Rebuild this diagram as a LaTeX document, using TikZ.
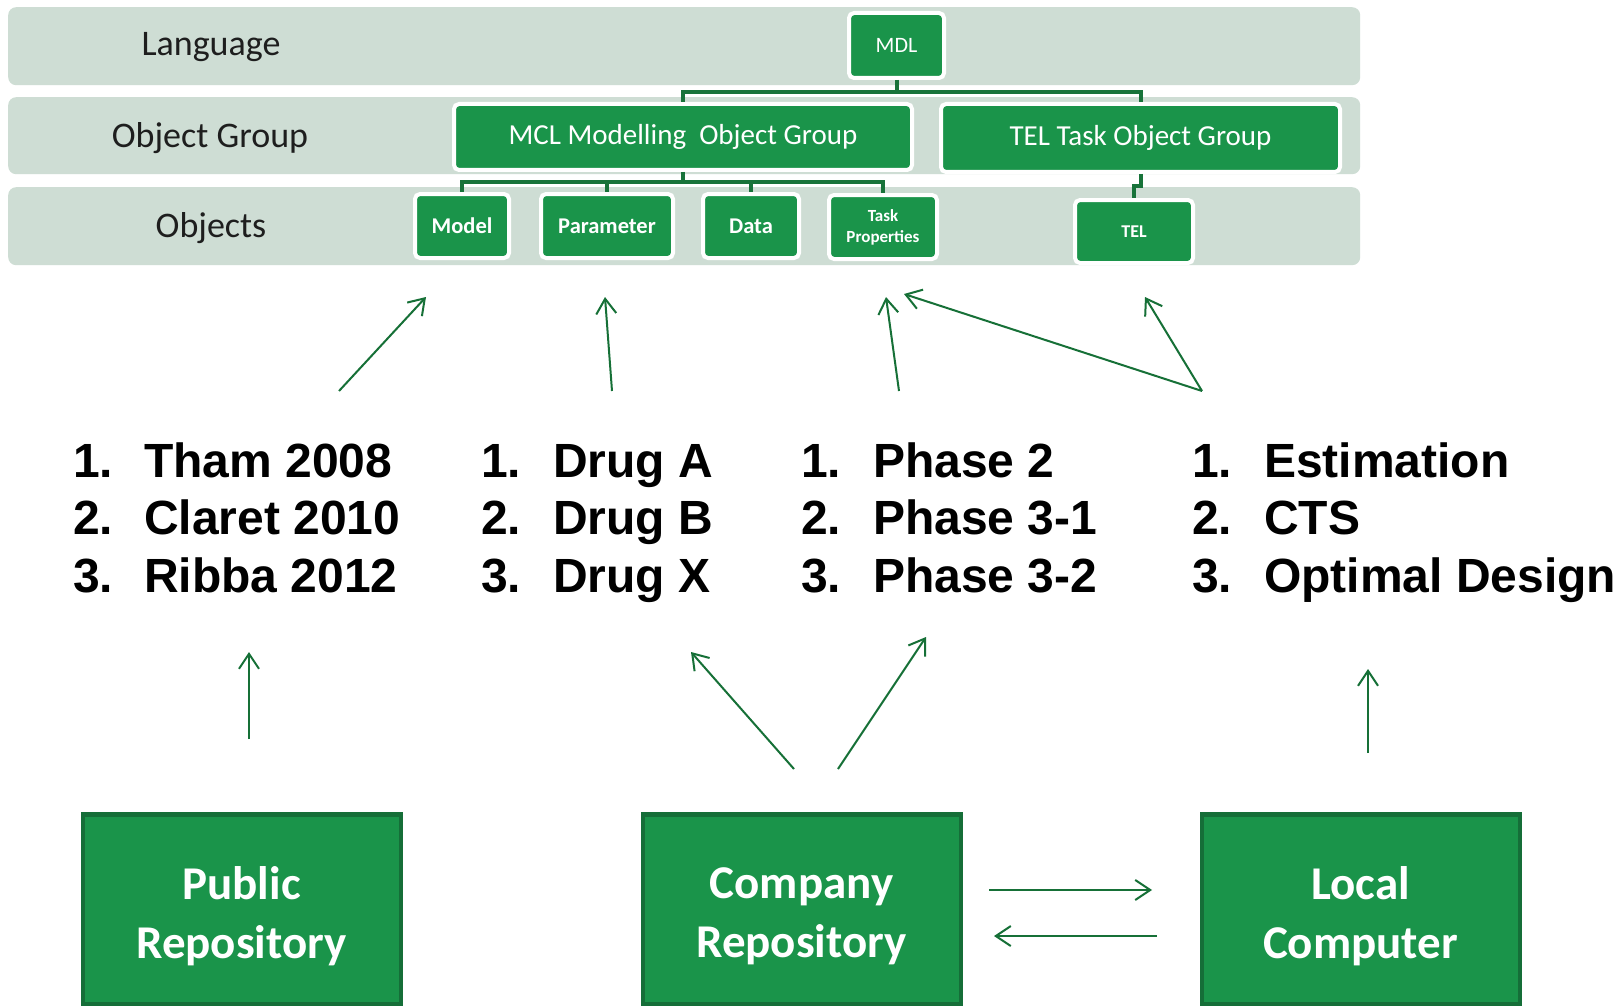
\documentclass[tikz,border=0pt]{standalone}
\usepackage{fontspec}
\setmainfont{Carlito}
\newfontfamily\listfont{Liberation Sans}
\usetikzlibrary{arrows.meta,calc}

\definecolor{band}{RGB}{206,221,212}
\definecolor{boxgreen}{RGB}{26,148,74}
\definecolor{linkgreen}{RGB}{24,115,58}
\definecolor{arrowgreen}{RGB}{22,112,55}
\definecolor{repoedge}{RGB}{21,110,56}
\definecolor{labelgray}{RGB}{30,30,30}

\tikzset{
  layer/.style={fill=band, rounded corners=8pt, minimum width=1352pt, inner sep=0, anchor=north west},
  bandlabel/.style={font=\fontsize{36}{43}\selectfont, text=labelgray, inner sep=0},
  objbox/.style={draw=white, line width=4pt, fill=boxgreen, rounded corners=5pt,
                 text=white, inner sep=0, align=center},
  grptext/.style={font=\fontsize{29}{34}\selectfont},
  itemtext/.style={font=\bfseries\fontsize{22.5}{27}\selectfont},
  link/.style={draw=linkgreen, line width=4pt},
  flow/.style={draw=arrowgreen, line width=2pt, -{Straight Barb[length=15pt,width=20pt]}},
  item/.style={anchor=base west, inner sep=0, font=\listfont\bfseries\fontsize{48}{58}\selectfont},
  repo/.style={fill=boxgreen, draw=repoedge, line width=4pt, minimum width=318pt,
               minimum height=190pt, inner sep=0},
  repotext/.style={text=white, align=center, font=\bfseries\fontsize{47}{59}\selectfont, inner sep=0}
}

\begin{document}
\begin{tikzpicture}[x=1pt,y=-1pt]
\useasboundingbox (0,0) rectangle (1623,1006);
\fill[white] (0,0) rectangle (1623,1006);

% three layer bands
\node[layer, minimum height=78pt] (langband) at (8,7) {};
\node[layer, minimum height=77pt] (grpband) at (8,97) {};
\node[layer, minimum height=78pt] (objband) at (8,187) {};
\node[bandlabel] (langlbl) at (211,47.5) {Language};
\node[bandlabel] (grplbl) at (210,138) {Object Group};
\node[bandlabel] (objlbl) at (211,228) {Objects};

% hierarchy boxes
\node[objbox, minimum width=95pt, minimum height=65pt, font=\fontsize{22}{26}\selectfont] (mdl) at (896.5,45.5) {MDL};
\node[objbox, grptext, minimum width=458pt, minimum height=66pt] (mcl) at (683,137) {MCL Modelling\ \ Object Group};
\node[objbox, grptext, minimum width=399pt, minimum height=68pt] (telgrp) at (1140.5,138) {TEL Task Object Group};
\node[objbox, itemtext, minimum width=94pt, minimum height=64pt] (model) at (462,226) {Model};
\node[objbox, itemtext, minimum width=132pt, minimum height=64pt] (param) at (607,226) {Parameter};
\node[objbox, itemtext, minimum width=96pt, minimum height=64pt] (data) at (751,226) {Data};
\node[objbox, minimum width=108pt, minimum height=64pt, font=\bfseries\fontsize{17}{21}\selectfont] (taskprop) at (883,227) {Task\\Properties};
\node[objbox, minimum width=118pt, minimum height=63pt, font=\bfseries\fontsize{18}{21}\selectfont] (tel) at (1134,231.5) {TEL};

% tree connectors
\draw[link] (mdl.south) -- ++(0,12) -| (mcl.north);
\draw[link] (mdl.south) ++(0,12) -| (telgrp.north);
\draw[link] (mcl.south) -- ++(0,10) -| (model.north);
\draw[link] (mcl.south) ++(0,10) -| (param.north);
\draw[link] (mcl.south) ++(0,10) -| (data.north);
\draw[link] (mcl.south) ++(0,10) -| (taskprop.north);
\draw[link] (telgrp.south) -- ++(0,12) -| (tel.north);

% numbered lists
\foreach \tx/\nx/\a/\b/\c [count=\k] in {
    144/73/Tham 2008/Claret 2010/Ribba 2012,
    553/481/Drug A/Drug B/Drug X,
    873/801/Phase 2/Phase 3-1/Phase 3-2,
    1264/1192/Estimation/CTS/Optimal Design}{
  \foreach \t/\y [count=\j] in {\a/477,\b/534,\c/592}{
    \node[item] (n\k\j) at (\nx,\y) {\j.};
    \node[item] (t\k\j) at (\tx,\y) {\t};
  }
}

% repositories
\node[repo] (pub) at (241.5,909) {};
\node[repo] (comp) at (801.5,909) {};
\node[repo] (local) at (1360.5,909) {};
\foreach \r in {pub,comp,local}{
  \fill[repoedge] (\r.north west) rectangle ($(\r.north east)+(0,5)$);
}
\node[repotext] (pubtxt) at ($(pub.center)+(0,7)$) {Public\\Repository};
\node[repotext] (comptxt) at ($(comp.center)+(0,7)$) {Company\\Repository};
\node[repotext] (localtxt) at ($(local.center)+(0,7)$) {Local\\Computer};

% arrow end points
\coordinate (a1s) at (339,391);  \coordinate (a1e) at (426,297);
\coordinate (a2s) at (612,391);  \coordinate (a2e) at (605,297);
\coordinate (a3s) at (899,391);  \coordinate (a3e) at (886,297);
\coordinate (a4s) at (1202,391); \coordinate (a4e) at (904,294);
\coordinate (a5e) at (1145,297);
\coordinate (b1s) at (249,739);  \coordinate (b1e) at (249,652);
\coordinate (b2s) at (794,769);  \coordinate (b2e) at (691,652);
\coordinate (b3s) at (838,769);  \coordinate (b3e) at (926,637);
\coordinate (b4s) at (1368,753); \coordinate (b4e) at (1368,669);
\coordinate (c1s) at (989,890);  \coordinate (c1e) at (1152,890);
\coordinate (c2s) at (1157,936); \coordinate (c2e) at (994,936);

\draw[flow] (a1s) -- (a1e);
\draw[flow] (a2s) -- (a2e);
\draw[flow] (a3s) -- (a3e);
\draw[flow] (a4s) -- (a4e);
\draw[flow] (a4s) -- (a5e);
\draw[flow] (b1s) -- (b1e);
\draw[flow] (b2s) -- (b2e);
\draw[flow] (b3s) -- (b3e);
\draw[flow] (b4s) -- (b4e);
\draw[flow] (c1s) -- (c1e);
\draw[flow] (c2s) -- (c2e);
\end{tikzpicture}
\end{document}
